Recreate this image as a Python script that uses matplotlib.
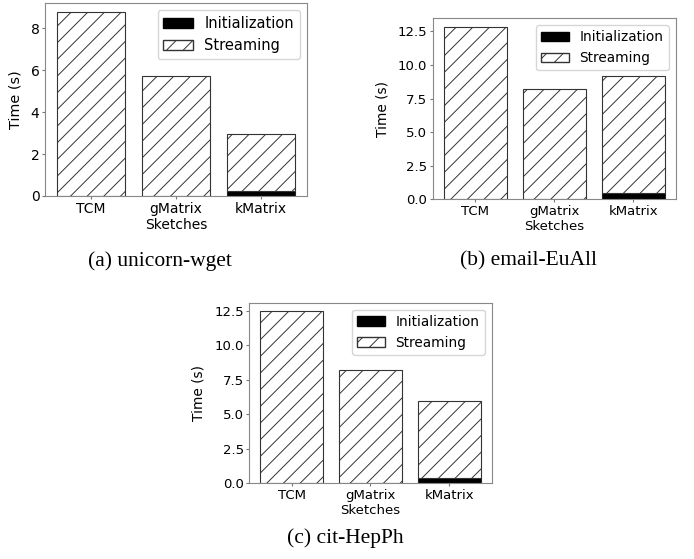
import matplotlib.pyplot as plt
from matplotlib.patches import Patch
from matplotlib.ticker import MultipleLocator, FormatStrFormatter

plt.rcParams['font.family'] = ['DejaVu Sans']
plt.rcParams['hatch.linewidth'] = 0.7

methods = ['TCM', 'gMatrix\nSketches', 'kMatrix']
captions = ['(a) unicorn-wget', '(b) email-EuAll', '(c) cit-HepPh']

# initialization / streaming time (s) per method, per dataset
init_wget = [0.0, 0.0, 0.25]
stream_wget = [8.78, 5.73, 2.72]
init_euall = [0.0, 0.0, 0.45]
stream_euall = [12.85, 8.2, 8.73]
init_hepph = [0.0, 0.0, 0.38]
stream_hepph = [12.45, 8.2, 5.61]

inits = [init_wget, init_euall, init_hepph]
streams = [stream_wget, stream_euall, stream_hepph]

# axes boxes in figure fractions
boxes = [
	[0.0648, 0.6494, 0.3775, 0.3453],
	[0.6235, 0.6435, 0.3501, 0.3243],
	[0.3592, 0.1354, 0.3493, 0.3231],
]
# caption centres (pixels) and per-panel font sizes
cap_xy = [(160, 261), (528, 261), (345, 538)]
tick_steps = [2, 2.5, 2.5]
tick_fmt = ['%d', '%.1f', '%.1f']
fsize = [10, 9.5, 9.5]
lsize = [10.5, 9.8, 9.8]

W, H = 694, 559
fig = plt.figure(figsize=(W / 100, H / 100), dpi=100)

for i, box in enumerate(boxes):
	ax = fig.add_axes(box)
	x = list(range(len(methods)))
	init, stream = inits[i], streams[i]
	ax.bar(x, init, width=0.8, color='black', edgecolor='#222222', linewidth=0.8)
	ax.bar(x, stream, width=0.8, bottom=init, color='white', edgecolor='#333333',
		   linewidth=0.8, hatch='//')
	ax.set_xticks(x)
	ax.set_xticklabels(methods, fontsize=fsize[i])
	ax.yaxis.set_major_locator(MultipleLocator(tick_steps[i]))
	ax.yaxis.set_major_formatter(FormatStrFormatter(tick_fmt[i]))
	ax.tick_params(axis='y', labelsize=fsize[i])
	ax.tick_params(colors='#777777', labelcolor='black', length=2, pad=2)
	ax.set_ylabel('Time (s)', fontsize=fsize[i] + 0.4, labelpad=6)
	for s in ax.spines.values():
		s.set_color('#888888')
	handles = [
		Patch(facecolor='black', edgecolor='black', label='Initialization'),
		Patch(facecolor='white', edgecolor='#333333', hatch='//', label='Streaming'),
	]
	ax.legend(handles=handles, loc='upper right', fontsize=lsize[i])
	cx, cy = cap_xy[i]
	fig.text(cx / W, 1 - cy / H, captions[i], ha='center', va='center',
			 fontsize=15.5, family='Liberation Serif')

fig.savefig('out.png')
